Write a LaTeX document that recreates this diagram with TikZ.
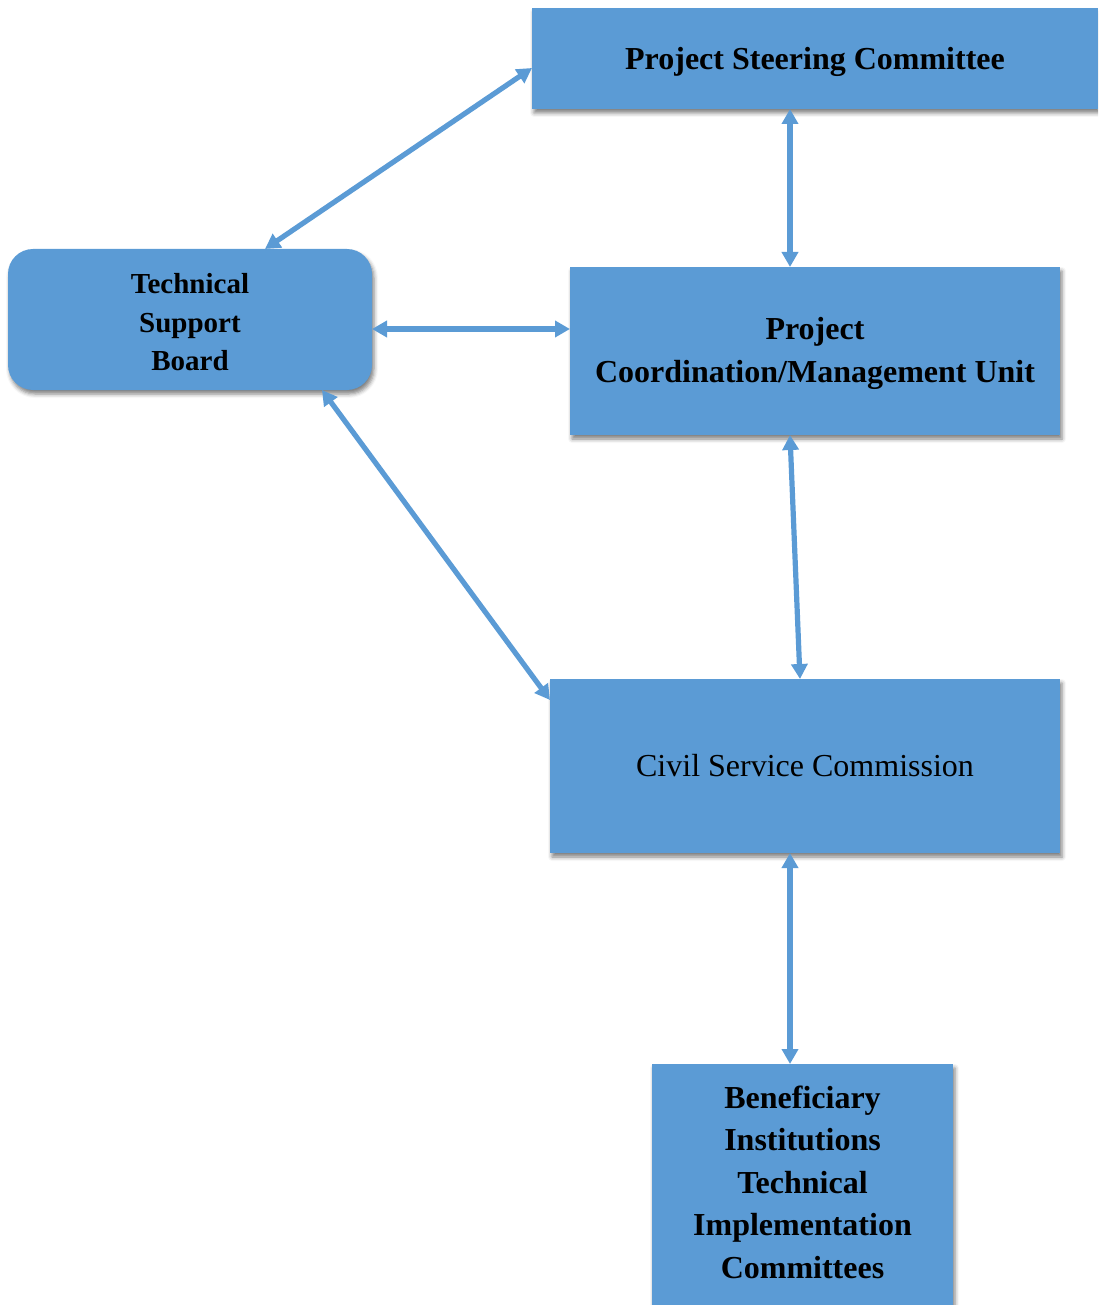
\documentclass[tikz,border=0pt]{standalone}
\usepackage{fontspec}
\setmainfont{Liberation Serif}
\usetikzlibrary{arrows.meta,shadows.blur}
\definecolor{boxblue}{RGB}{91,155,213}
% centred stack of lines, drawn #1 higher than its declared extent
\newcommand\boxlines[2]{\raisebox{#1}[\height][\depth]{\begin{tabular}{@{}c@{}}#2\end{tabular}}}
\tikzset{
  unitbox/.style={rectangle, fill=boxblue, draw=none, inner sep=0pt, outer sep=0pt,
    text=black,
    blur shadow={shadow xshift=2pt, shadow yshift=-4pt, shadow blur radius=4pt, shadow opacity=50}},
  bigtext/.style={font=\fontsize{32}{42.5}\selectfont\bfseries},
  conn/.style={draw=boxblue, line width=5.2pt,
    {Triangle[length=15pt,width=16pt]}-{Triangle[length=15pt,width=16pt]}}
}
\begin{document}
\begin{tikzpicture}[x=1pt,y=-1pt]
\useasboundingbox (0,0) rectangle (1098,1305);
\begin{scope}
\clip (0,0) rectangle (1098,1305);
% organisational units
\node[unitbox, bigtext, minimum width=566pt, minimum height=101pt] (psc) at (815,58.5)
  {\boxlines{-3pt}{Project Steering Committee}};
\node[unitbox, rounded corners=25pt, minimum width=364pt, minimum height=141pt,
  font=\fontsize{29}{38.5}\selectfont\bfseries] (tsb) at (190,319.5)
  {\boxlines{-5pt}{Technical\\Support\\Board}};
\node[unitbox, bigtext, minimum width=490pt, minimum height=168pt] (pcmu) at (815,351)
  {\boxlines{-1.5pt}{Project\\Coordination/Management Unit}};
\node[unitbox, font=\fontsize{32}{42.5}\selectfont, minimum width=510pt, minimum height=174pt] (csc) at (805,766)
  {\boxlines{-2pt}{Civil Service Commission}};
\node[unitbox, bigtext, minimum width=301pt, minimum height=241pt] (bitic) at (802.5,1184.5)
  {\boxlines{0pt}{Beneficiary\\Institutions\\Technical\\Implementation\\Committees}};
\end{scope}
% two-way links between units
\draw[conn] ([xshift=75pt]tsb.north) -- ([yshift=-9.5pt]psc.west);
\draw[conn] ([xshift=-25pt]psc.south) -- ([xshift=-25pt]pcmu.north);
\draw[conn] ([yshift=-9.5pt]tsb.east) -- ([yshift=22pt]pcmu.west);
\draw[conn] ([xshift=-25pt]pcmu.south) -- ([xshift=-5pt]csc.north);
\draw[conn] ([xshift=132pt]tsb.south) -- ([yshift=66pt]csc.west);
\draw[conn] ([xshift=-15pt]csc.south) -- ([xshift=-12.5pt]bitic.north);
\end{tikzpicture}
\end{document}
